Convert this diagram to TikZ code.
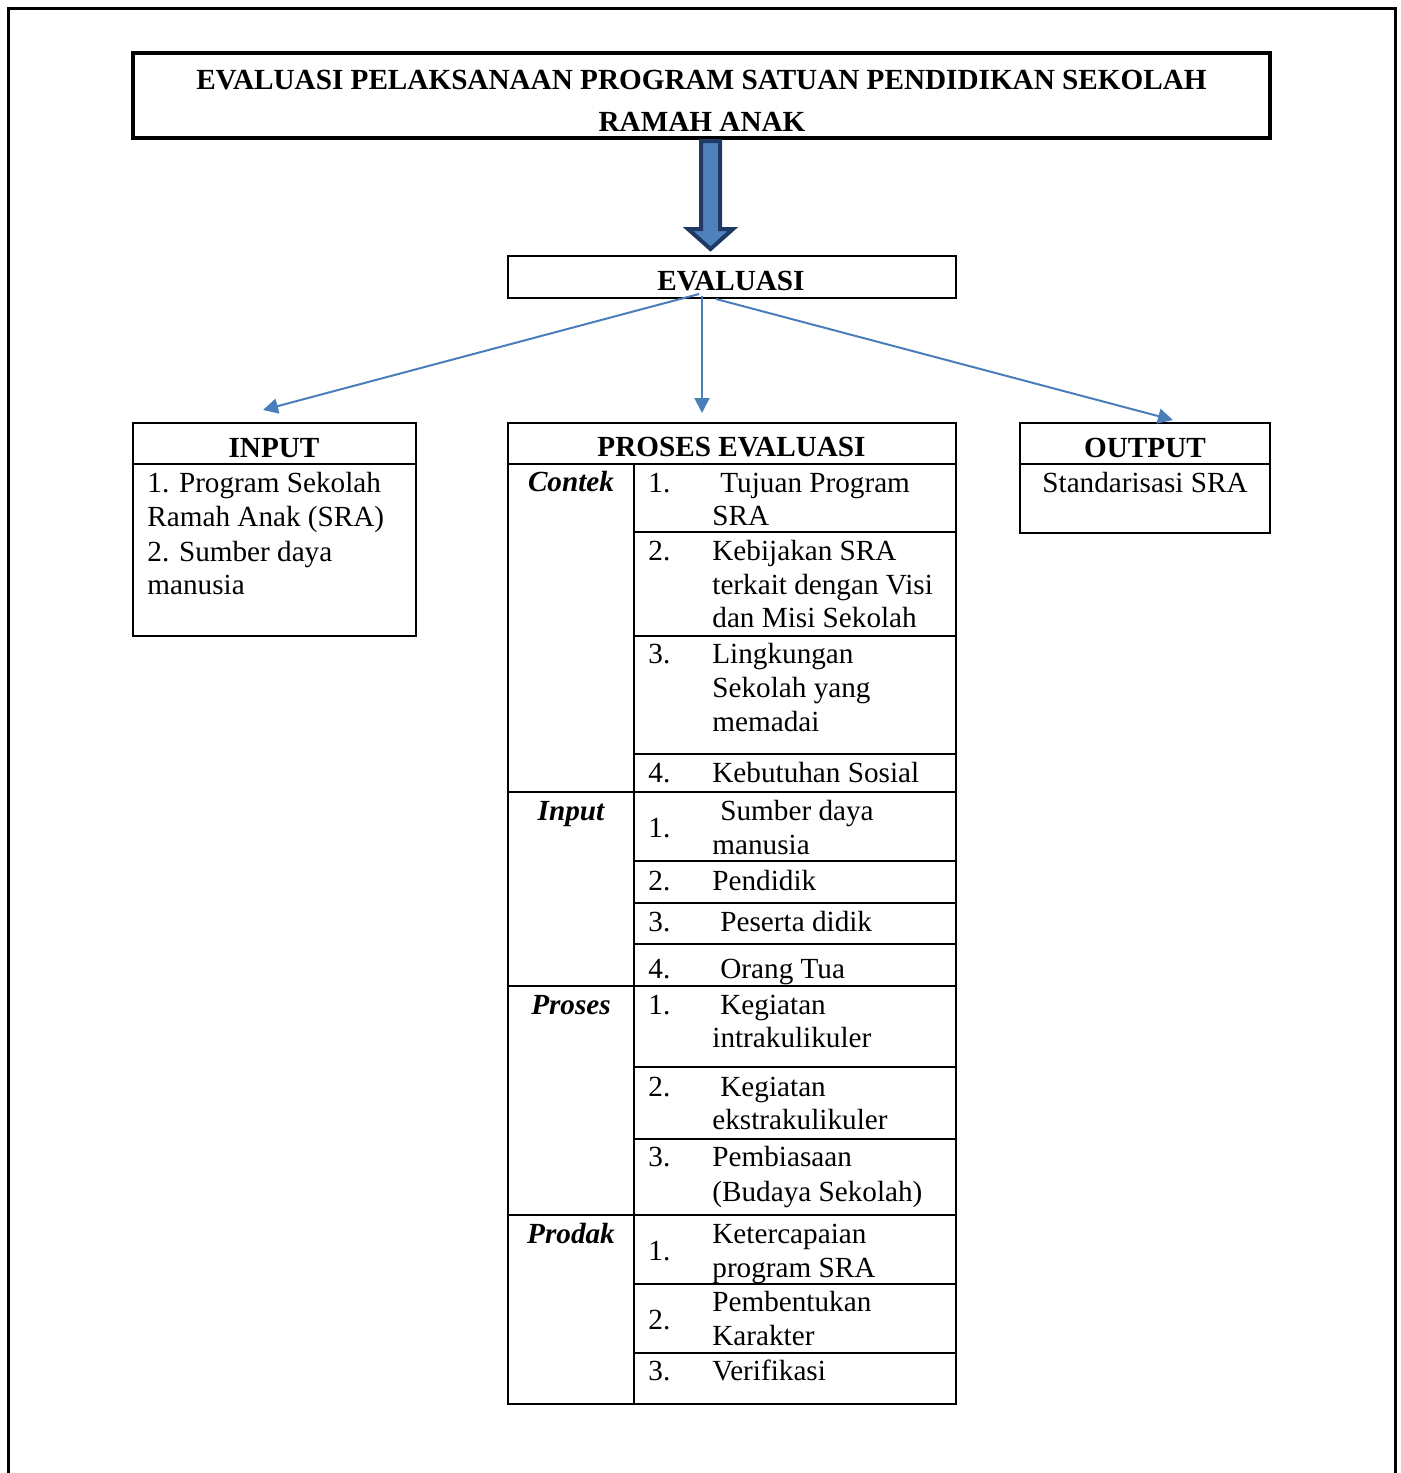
\documentclass[tikz,border=0pt]{standalone}
\usepackage{fontspec}
\setmainfont{Liberation Serif}
\usetikzlibrary{arrows.meta}
\definecolor{lineblue}{RGB}{74,126,187}
\definecolor{arrowfill}{RGB}{79,129,189}
\definecolor{arrowedge}{RGB}{31,56,100}
\begin{document}
\begin{tikzpicture}[x=0.5pt,y=-0.5pt,
  outerframe/.style={line width=1.5pt},
  plainbox/.style={draw, line width=1pt, inner sep=0pt, outer sep=0pt},
  titlebox/.style={draw, line width=1.6pt, inner sep=0pt, outer sep=0pt},
  tabline/.style={line width=1pt},
  lt/.style={anchor=base west, inner sep=0pt, font=\fontsize{14.6}{17}\selectfont},
  ct/.style={anchor=base, inner sep=0pt, font=\fontsize{14.6}{17}\selectfont},
  bt/.style={anchor=base, inner sep=0pt, font=\fontsize{14.6}{17}\selectfont\bfseries},
  bit/.style={anchor=base, inner sep=0pt, font=\fontsize{14.6}{17}\selectfont\bfseries\itshape},
  conn/.style={draw=lineblue, line width=1pt, -{Triangle[length=7.5pt,width=7.5pt]}}
]
\useasboundingbox (0,0) rectangle (1401,1473);
% outer frame (open at the bottom)
\draw[outerframe] (8,1475) -- (8,8) -- (1395,8) -- (1395,1475);

% boxes
\node[titlebox, minimum width=568.5pt, minimum height=42.5pt] (titlebox) at (701.5,95.5) {};
\node[plainbox, minimum width=224pt, minimum height=21pt] (evalbox) at (732,277) {};
\node[plainbox, minimum width=141.5pt, minimum height=106.5pt] (inputbox) at (274.5,529.5) {};
\node[plainbox, minimum width=125pt, minimum height=55pt] (outputbox) at (1145,478) {};
\node[plainbox, minimum width=224pt, minimum height=490.5pt] (prosesbox) at (732,913.5) {};

% header rules
\draw[tabline] (inputbox.west |- 0,464) -- (inputbox.east |- 0,464);
\draw[tabline] (outputbox.west |- 0,464) -- (outputbox.east |- 0,464);
\draw[tabline] (prosesbox.west |- 0,464) -- (prosesbox.east |- 0,464);
% column divider
\draw[tabline] (634,464) -- (prosesbox.south -| 634,0);
% group separators
\foreach \yy in {792,986,1215}
  \draw[tabline] (prosesbox.west |- 0,\yy) -- (prosesbox.east |- 0,\yy);
% item separators
\foreach \yy in {532,636,754,861,903,944,1067,1139,1284,1353}
  \draw[tabline] (634,\yy) -- (prosesbox.east |- 0,\yy);

% block arrow
\draw[fill=arrowfill, draw=arrowedge, line width=2pt, line join=miter]
  (701,141) -- (720,141) -- (720,229) -- (733,229) -- (710.5,249) -- (688,229) -- (701,229) -- cycle;

% thin connectors
\coordinate (sL) at (699,294);
\coordinate (sM) at (702,296);
\coordinate (sR) at (716,299);
\coordinate (eL) at (263,410);
\coordinate (eM) at (702,413);
\coordinate (eR) at (1173,420);
\draw[conn] (sL) -- (eL);
\draw[conn] (sM) -- (eM);
\draw[conn] (sR) -- (eR);

% titles
\node[bt] (title1) at (701.5,89) {EVALUASI PELAKSANAAN PROGRAM SATUAN PENDIDIKAN SEKOLAH};
\node[bt] (title2) at (702,131) {RAMAH ANAK};
\node[bt] (evaltext) at (731,290) {EVALUASI};
\node[bt] (inputhead) at (274,457) {INPUT};
\node[bt] (outputhead) at (1145,457) {OUTPUT};
\node[bt] (proseshead) at (731.5,456) {PROSES EVALUASI};

% input body
\node[lt] (in1) at (147,492) {1. Program Sekolah};
\node[lt] (in2) at (147,526) {Ramah Anak (SRA)};
\node[lt] (in3) at (147,561) {2. Sumber daya};
\node[lt] (in4) at (147,594) {manusia};
% output body
\node[ct] (out1) at (1145,492) {Standarisasi SRA};

% column labels
\node[bit] (lc) at (571,491) {Contek};
\node[bit] (li) at (571,820) {Input};
\node[bit] (lp) at (571,1014) {Proses};
\node[bit] (ld) at (571,1243) {Prodak};

% numbers
\node[lt] (n1) at (648,492) {1.};
\node[lt] (n2) at (648,560) {2.};
\node[lt] (n3) at (648,663) {3.};
\node[lt] (n4) at (648,782) {4.};
\node[lt] (n5) at (648,837) {1.};
\node[lt] (n6) at (648,890) {2.};
\node[lt] (n7) at (648,931) {3.};
\node[lt] (n8) at (648,978) {4.};
\node[lt] (n9) at (648,1014) {1.};
\node[lt] (n10) at (648,1096) {2.};
\node[lt] (n11) at (648,1166) {3.};
\node[lt] (n12) at (648,1260) {1.};
\node[lt] (n13) at (648,1329.5) {2.};
\node[lt] (n14) at (648,1380) {3.};

% items
\node[lt] (i1a) at (720,492) {Tujuan Program};
\node[lt] (i1b) at (712,525) {SRA};
\node[lt] (i2a) at (712,560) {Kebijakan SRA};
\node[lt] (i2b) at (712,594) {terkait dengan Visi};
\node[lt] (i2c) at (712,627) {dan Misi Sekolah};
\node[lt] (i3a) at (712,663) {Lingkungan};
\node[lt] (i3b) at (712,697) {Sekolah yang};
\node[lt] (i3c) at (712,731) {memadai};
\node[lt] (i4a) at (712,782) {Kebutuhan Sosial};
\node[lt] (i5a) at (720,820) {Sumber daya};
\node[lt] (i5b) at (712,854) {manusia};
\node[lt] (i6a) at (712,890) {Pendidik};
\node[lt] (i7a) at (720,931) {Peserta didik};
\node[lt] (i8a) at (720,978) {Orang Tua};
\node[lt] (i9a) at (720,1014) {Kegiatan};
\node[lt] (i9b) at (712,1047) {intrakulikuler};
\node[lt] (i10a) at (720,1096) {Kegiatan};
\node[lt] (i10b) at (712,1129) {ekstrakulikuler};
\node[lt] (i11a) at (712,1166) {Pembiasaan};
\node[lt] (i11b) at (712,1201) {(Budaya Sekolah)};
\node[lt] (i12a) at (712,1243) {Ketercapaian};
\node[lt] (i12b) at (712,1277) {program SRA};
\node[lt] (i13a) at (712,1311) {Pembentukan};
\node[lt] (i13b) at (712,1345) {Karakter};
\node[lt] (i14a) at (712,1380) {Verifikasi};
\end{tikzpicture}
\end{document}
